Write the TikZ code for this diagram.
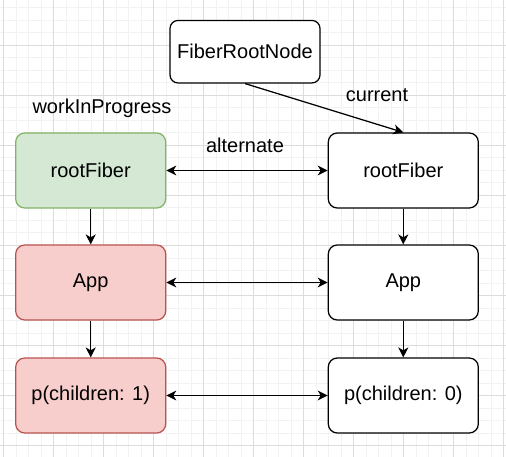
\documentclass[tikz,border=0pt]{standalone}
\usepackage{fontspec}
\setmainfont{Liberation Sans}
\usetikzlibrary{arrows.meta}
\definecolor{gminor}{HTML}{F2F2F2}
\definecolor{gmajor}{HTML}{DCDCDC}
\definecolor{greenfill}{HTML}{D5E8D4}
\definecolor{greenline}{HTML}{82B366}
\definecolor{redfill}{HTML}{F8CECC}
\definecolor{redline}{HTML}{B85450}
\tikzset{
  box/.style={draw=black, line width=1.25pt, rounded corners=9pt, minimum width=150pt, minimum height=75pt, inner sep=0pt, font=\fontsize{20}{24}\selectfont, fill=white},
  rootbox/.style={box, minimum height=62.5pt, rounded corners=8pt},
  wipg/.style={fill=greenfill, draw=greenline},
  wipr/.style={fill=redfill, draw=redline},
  lbl/.style={font=\fontsize{20}{24}\selectfont, inner sep=0pt},
  tip/.style={Stealth[length=10pt,width=10pt,inset=3pt]},
  conn/.style={line width=1.25pt, -{Stealth[length=10pt,width=10pt,inset=3pt]}},
  bconn/.style={line width=1.25pt, {Stealth[length=10pt,width=10pt,inset=3pt]}-{Stealth[length=10pt,width=10pt,inset=3pt]}}
}
\begin{document}
\begin{tikzpicture}[x=1pt,y=-1pt]
\useasboundingbox (0,0) rectangle (506,457);
\fill[white] (0,0) rectangle (506,457);
% grid
\foreach \i in {0,...,40} {
  \draw[gminor, line width=1pt] ({3.5+12.5*\i},0) -- ({3.5+12.5*\i},457);
}
\foreach \i in {-3,...,33} {
  \draw[gminor, line width=1pt] (0,{45.5+12.5*\i}) -- (506,{45.5+12.5*\i});
}
\foreach \i in {0,...,10} {
  \draw[gmajor, line width=1pt] ({3.5+50*\i},0) -- ({3.5+50*\i},457);
}
\foreach \i in {-1,...,8} {
  \draw[gmajor, line width=1pt] (0,{45.5+50*\i}) -- (506,{45.5+50*\i});
}
% nodes
\node[rootbox] (frn) at (245,51.7) {FiberRootNode};
\node[box, wipg] (lroot) at (90.7,170.5) {rootFiber};
\node[box, wipr] (lapp) at (90.7,282.5) {App};
\node[box, wipr] (lp) at (90.7,395.5) {p(children: 1)};
\node[box] (rroot) at (403.3,170.5) {rootFiber};
\node[box] (rapp) at (403.3,282.5) {App};
\node[box] (rp) at (403.3,395.5) {p(children: 0)};
\node[lbl] (wip) at (102,108) {workInProgress};
\node[lbl] (cur) at (377,95) {current};
\node[lbl] (alt) at (245,145) {alternate};
% connectors
\draw[conn] (frn.south) -- (rroot.north);
\draw[bconn] (lroot.east) -- (rroot.west);
\draw[bconn] (lapp.east) -- (rapp.west);
\draw[bconn] (lp.east) -- (rp.west);
\draw[conn] (lroot.south) -- (lapp.north);
\draw[conn] (lapp.south) -- (lp.north);
\draw[conn] (rroot.south) -- (rapp.north);
\draw[conn] (rapp.south) -- (rp.north);
\end{tikzpicture}
\end{document}
